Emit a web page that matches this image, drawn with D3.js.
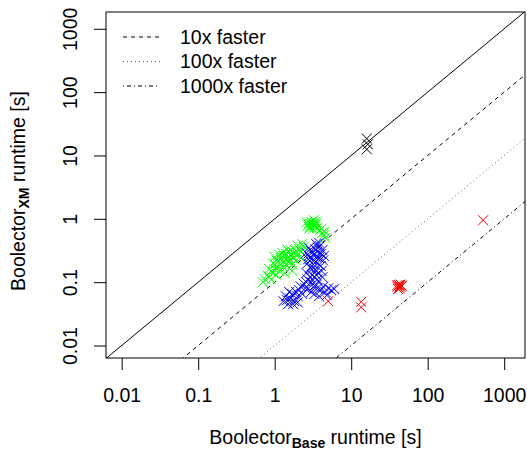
<!DOCTYPE html>
<html>
<head>
<meta charset="utf-8">
<script src="https://cdn.jsdelivr.net/npm/d3@7"></script>
<style>
  body { margin: 0; background: #fff; }
  text { font-family: "Liberation Sans", Arial, sans-serif; }
</style>
</head>
<body>
<div id="chart"></div>
<script>

// tick values shared by both axes
var ticks = [0.01, 0.1, 1, 10, 100, 1000];
var tickLabels = ["0.01", "0.1", "1", "10", "100", "1000"];

// reference lines: speedup factor
var factors = [1, 10, 100, 1000];
var legendLabels = ["10x faster", "100x faster", "1000x faster"];

// runtimes [base, xm] in seconds
var blackPts = [[16, 18.5], [16, 12.5], [16.5, 15]];

var greenPts = [
  [0.75,0.11],[0.8,0.13],[0.85,0.12],[0.9,0.15],[0.95,0.14],[1.0,0.16],[1.0,0.19],
  [1.05,0.13],[1.1,0.17],[1.1,0.21],[1.15,0.15],[1.2,0.19],[1.2,0.24],[1.25,0.22],
  [1.3,0.17],[1.3,0.26],[1.35,0.2],[1.4,0.23],[1.4,0.28],[1.45,0.18],[1.5,0.21],
  [1.5,0.25],[1.55,0.3],[1.6,0.22],[1.65,0.27],[1.7,0.19],[1.75,0.24],[1.8,0.29],
  [1.9,0.22],[2.0,0.27],[2.1,0.33],[2.2,0.3],[2.4,0.36],[1.25,0.29],[1.6,0.32],
  [0.95,0.2],[1.15,0.27],[2.0,0.38],[2.3,0.4],[0.7,0.1],[0.85,0.16],[1.05,0.22],
  [1.35,0.14],[1.7,0.15],[1.9,0.31],[2.2,0.24],[1.0,0.25],[1.45,0.33],[0.9,0.11],
  [2.7,0.78],[2.8,0.85],[2.9,0.75],[3.0,0.82],[3.0,0.9],[3.1,0.78],[3.2,0.86],
  [3.3,0.8],[3.4,0.74],[3.5,0.83],[2.85,0.7],[3.25,0.95],[3.6,0.72],[2.6,0.88],
  [3.15,0.7],[3.45,0.9],
  [3.9,0.66],[4.2,0.6],[4.4,0.55],[4.6,0.5],[4.1,0.7],[4.5,0.62]
];

var bluePts = [
  [2.6,0.14],[2.7,0.2],[2.8,0.26],[2.9,0.17],[3.0,0.23],[3.0,0.31],[3.1,0.13],
  [3.2,0.19],[3.2,0.27],[3.3,0.22],[3.4,0.16],[3.4,0.33],[3.5,0.25],[3.6,0.2],
  [3.6,0.3],[3.7,0.14],[3.8,0.24],[3.9,0.37],[4.0,0.18],[4.0,0.28],[4.2,0.32],
  [4.3,0.22],[2.6,0.29],[2.8,0.35],[3.3,0.12],[3.5,0.4],[3.8,0.42],[2.7,0.11],
  [2.9,0.12],[3.1,0.16],[3.5,0.13],[4.1,0.15],[4.4,0.26],[2.75,0.23],[3.7,0.35],
  [4.2,0.12],[3.0,0.1],[3.6,0.11],
  [1.3,0.05],[1.4,0.06],[1.5,0.045],[1.6,0.055],[1.7,0.065],[1.8,0.05],[1.9,0.07],
  [2.0,0.06],[2.1,0.075],[2.2,0.085],[2.3,0.065],[2.4,0.095],[1.55,0.07],[2.0,0.048],
  [1.45,0.052],[1.75,0.045],[2.5,0.08],[2.6,0.1],
  [3.0,0.07],[3.3,0.065],[3.6,0.08],[3.8,0.06],[4.0,0.075],[4.3,0.085],[4.6,0.07],
  [5.0,0.08],[5.5,0.075],[3.2,0.085],[4.8,0.062],[6.0,0.078],[2.7,0.078],[3.5,0.09]
];

var redPts = [
  [5.0,0.05],[13.5,0.049],[13.5,0.04],[40,0.085],[42,0.09],[43,0.08],[44,0.092],
  [45,0.085],[41,0.078],[46,0.088],[43,0.086],[40,0.09],[530,0.95]
];

var W = 527, H = 451;
var box = {left: 106, right: 525, top: 12, bottom: 358};
var fs = 19.5;

var svg = d3.select("#chart")
  .append("svg")
    .attr("width", W)
    .attr("height", H);

var x = d3.scaleLog()
  .domain([Math.pow(10, -2.205), Math.pow(10, 3.272)])
  .range([box.left, box.right]);

var y = d3.scaleLog()
  .domain([Math.pow(10, -2.197), Math.pow(10, 3.265)])
  .range([box.bottom, box.top]);

svg.append("clipPath")
    .attr("id", "clip")
  .append("rect")
    .attr("x", box.left)
    .attr("y", box.top)
    .attr("width", box.right - box.left)
    .attr("height", box.bottom - box.top);

// diagonal lines
var dashes = [null, "4,4", "1,3", "1,3,4,3"];
var lineCol = ["#000", "#000", "#666", "#000"];
var plot = svg.append("g").attr("clip-path", "url(#clip)");

factors.forEach(function(f, i) {
  plot.append("line")
    .attr("x1", x(0.001)).attr("y1", y(0.001 / f))
    .attr("x2", x(100000)).attr("y2", y(100000 / f))
    .attr("stroke", lineCol[i])
    .attr("stroke-width", 1)
    .attr("stroke-dasharray", dashes[i]);
});

// crosses (pch = 4)
function crosses(data, col) {
  var s = 5;
  plot.append("g")
    .selectAll("path")
    .data(data)
    .enter()
    .append("path")
      .attr("d", function(d) {
        var cx = x(d[0]), cy = y(d[1]);
        return "M" + (cx - s) + "," + (cy - s) + "L" + (cx + s) + "," + (cy + s) +
               "M" + (cx - s) + "," + (cy + s) + "L" + (cx + s) + "," + (cy - s);
      })
      .attr("stroke", col)
      .attr("stroke-width", 1)
      .attr("fill", "none");
}
crosses(blackPts, "#000");
crosses(greenPts, "#00ff00");
crosses(bluePts, "#0000ff");
crosses(redPts, "#ff0000");

// frame
svg.append("rect")
  .attr("x", box.left).attr("y", box.top)
  .attr("width", box.right - box.left)
  .attr("height", box.bottom - box.top)
  .attr("fill", "none")
  .attr("stroke", "#000")
  .attr("stroke-width", 1);

// x axis
var xAxis = svg.append("g")
  .attr("transform", "translate(0," + box.bottom + ")")
  .call(d3.axisBottom(x).tickValues(ticks)
        .tickFormat(function(d, i) { return tickLabels[i]; })
        .tickSize(12).tickPadding(18));
xAxis.select(".domain").remove();
xAxis.selectAll("text").attr("font-size", fs).attr("fill", "#000")
  .attr("font-family", "Liberation Sans, Arial, sans-serif");

// y axis, labels parallel to the axis
var yAxis = svg.append("g")
  .attr("transform", "translate(" + box.left + ",0)")
  .call(d3.axisLeft(y).tickValues(ticks)
        .tickFormat(function(d, i) { return tickLabels[i]; })
        .tickSize(12));
yAxis.select(".domain").remove();
yAxis.selectAll("text")
  .attr("font-size", fs).attr("fill", "#000")
  .attr("font-family", "Liberation Sans, Arial, sans-serif")
  .attr("x", null).attr("dy", null)
  .attr("text-anchor", "middle")
  .attr("transform", "translate(-29,0) rotate(-90)");

// axis titles
var xt = svg.append("text")
  .attr("x", (box.left + box.right) / 2)
  .attr("y", 444)
  .attr("text-anchor", "middle")
  .attr("font-size", fs);
xt.append("tspan").text("Boolector");
xt.append("tspan").attr("dy", 4).attr("font-size", 14).attr("font-weight", "bold").text("Base");
xt.append("tspan").attr("dy", -4).text(" runtime [s]");

var yt = svg.append("text")
  .attr("transform", "translate(25," + ((box.top + box.bottom) / 2 + 6) + ") rotate(-90)")
  .attr("text-anchor", "middle")
  .attr("font-size", fs);
yt.append("tspan").text("Boolector");
yt.append("tspan").attr("dy", 4).attr("font-size", 14).attr("font-weight", "bold").text("XM");
yt.append("tspan").attr("dy", -4).text(" runtime [s]");

// legend
legendLabels.forEach(function(t, i) {
  var ly = 37 + i * 24.5;
  svg.append("line")
    .attr("x1", 123).attr("x2", 160)
    .attr("y1", ly).attr("y2", ly)
    .attr("stroke", lineCol[i + 1])
    .attr("stroke-dasharray", dashes[i + 1]);
  svg.append("text")
    .attr("x", 180).attr("y", ly)
    .attr("dy", "0.35em")
    .attr("font-size", fs)
    .text(t);
});

</script>
</body>
</html>
